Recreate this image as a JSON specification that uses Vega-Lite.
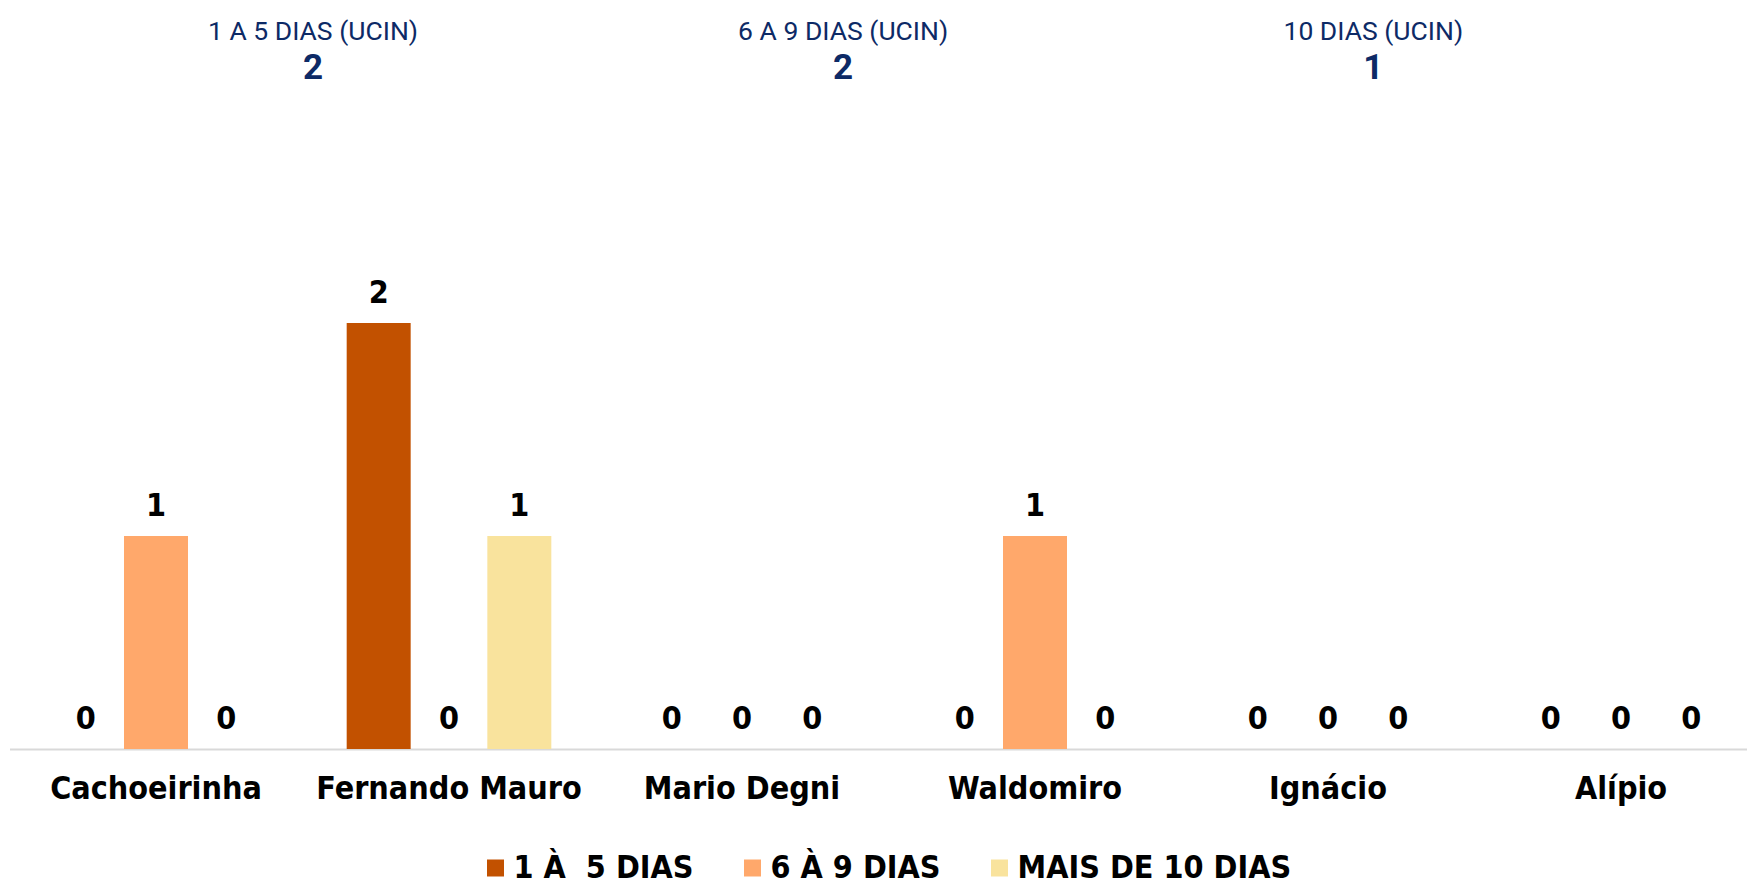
{
  "$schema": "https://vega.github.io/schema/vega-lite/v6.json",
  "autosize": "none",
  "width": 1758,
  "height": 426,
  "padding": {"left": 9.5, "top": 323, "right": 0, "bottom": 137},
  "background": "white",
  "config": {"view": {"stroke": null}},
  "datasets": {
    "internacoes": [
      {"unidade": "Cachoeirinha", "faixa": "1 À\u00a0 5 DIAS", "valor": 0},
      {"unidade": "Cachoeirinha", "faixa": "6 À 9 DIAS", "valor": 1},
      {"unidade": "Cachoeirinha", "faixa": "MAIS DE 10 DIAS", "valor": 0},
      {"unidade": "Fernando Mauro", "faixa": "1 À\u00a0 5 DIAS", "valor": 2},
      {"unidade": "Fernando Mauro", "faixa": "6 À 9 DIAS", "valor": 0},
      {"unidade": "Fernando Mauro", "faixa": "MAIS DE 10 DIAS", "valor": 1},
      {"unidade": "Mario Degni", "faixa": "1 À\u00a0 5 DIAS", "valor": 0},
      {"unidade": "Mario Degni", "faixa": "6 À 9 DIAS", "valor": 0},
      {"unidade": "Mario Degni", "faixa": "MAIS DE 10 DIAS", "valor": 0},
      {"unidade": "Waldomiro", "faixa": "1 À\u00a0 5 DIAS", "valor": 0},
      {"unidade": "Waldomiro", "faixa": "6 À 9 DIAS", "valor": 1},
      {"unidade": "Waldomiro", "faixa": "MAIS DE 10 DIAS", "valor": 0},
      {"unidade": "Ignácio", "faixa": "1 À\u00a0 5 DIAS", "valor": 0},
      {"unidade": "Ignácio", "faixa": "6 À 9 DIAS", "valor": 0},
      {"unidade": "Ignácio", "faixa": "MAIS DE 10 DIAS", "valor": 0},
      {"unidade": "Alípio", "faixa": "1 À\u00a0 5 DIAS", "valor": 0},
      {"unidade": "Alípio", "faixa": "6 À 9 DIAS", "valor": 0},
      {"unidade": "Alípio", "faixa": "MAIS DE 10 DIAS", "valor": 0}
    ],
    "kpis": [
      {"titulo": "1 A 5 DIAS (UCIN)", "total": 2},
      {"titulo": "6 A 9 DIAS (UCIN)", "total": 2},
      {"titulo": "10 DIAS (UCIN)", "total": 1}
    ]
  },
  "layer": [
    {
      "data": {"name": "internacoes"},
      "encoding": {
        "x": {
          "field": "unidade",
          "type": "nominal",
          "sort": null,
          "scale": {"paddingInner": 0.28, "paddingOuter": 0.14},
          "axis": {
            "title": null,
            "labelAngle": 0,
            "ticks": false,
            "domainColor": "#D9D9D9",
            "domainWidth": 2,
            "labelFont": "DejaVu Sans Condensed, Liberation Sans, Arial",
            "labelFontSize": 32,
            "labelFontWeight": "bold",
            "labelColor": "#000000",
            "labelPadding": 24,
            "labelLimit": 0
          }
        },
        "xOffset": {
          "field": "faixa",
          "type": "nominal",
          "sort": null,
          "scale": {"paddingInner": 0.09, "paddingOuter": 0.045}
        },
        "y": {
          "field": "valor",
          "type": "quantitative",
          "scale": {"domain": [0, 2], "nice": false, "zero": true},
          "axis": null
        }
      },
      "layer": [
        {
          "mark": {"type": "bar"},
          "encoding": {
            "color": {
              "field": "faixa",
              "type": "nominal",
              "sort": null,
              "scale": {
                "domain": ["1 À\u00a0 5 DIAS", "6 À 9 DIAS", "MAIS DE 10 DIAS"],
                "range": ["#C25100", "#FFA86B", "#F9E39D"]
              },
              "legend": {
                "title": null,
                "orient": "none",
                "direction": "horizontal",
                "legendX": 470,
                "legendY": 529,
                "symbolType": "square",
                "symbolSize": 289,
                "symbolStrokeWidth": 0,
                "labelFont": "DejaVu Sans Condensed, Liberation Sans, Arial",
                "labelFontSize": 32,
                "labelFontWeight": "bold",
                "labelColor": "#000000",
                "labelOffset": 2,
                "labelLimit": 0,
                "columnPadding": 42
              }
            }
          }
        },
        {
          "mark": {
            "type": "text",
            "baseline": "bottom",
            "dy": -13,
            "font": "DejaVu Sans Condensed, Liberation Sans, Arial",
            "fontSize": 32,
            "fontWeight": "bold",
            "color": "#000000"
          },
          "encoding": {
            "text": {"field": "valor", "type": "quantitative"}
          }
        }
      ]
    },
    {
      "data": {"name": "kpis"},
      "mark": {
        "type": "text",
        "baseline": "middle",
        "font": "Roboto",
        "fontSize": 26.5,
        "color": "#0D2A66"
      },
      "encoding": {
        "x": {
          "field": "titulo",
          "type": "nominal",
          "sort": null,
          "scale": {"type": "point", "padding": 0.658, "align": 0.435},
          "axis": null
        },
        "y": {"datum": 3.366, "type": "quantitative"},
        "text": {"field": "titulo", "type": "nominal"}
      }
    },
    {
      "data": {"name": "kpis"},
      "mark": {
        "type": "text",
        "baseline": "middle",
        "font": "Roboto",
        "fontSize": 35,
        "fontWeight": "bold",
        "color": "#0D2A66"
      },
      "encoding": {
        "x": {
          "field": "titulo",
          "type": "nominal",
          "sort": null,
          "scale": {"type": "point", "padding": 0.658, "align": 0.435},
          "axis": null
        },
        "y": {"datum": 3.197, "type": "quantitative"},
        "text": {"field": "total", "type": "quantitative"}
      }
    }
  ],
  "resolve": {"scale": {"x": "independent"}}
}
